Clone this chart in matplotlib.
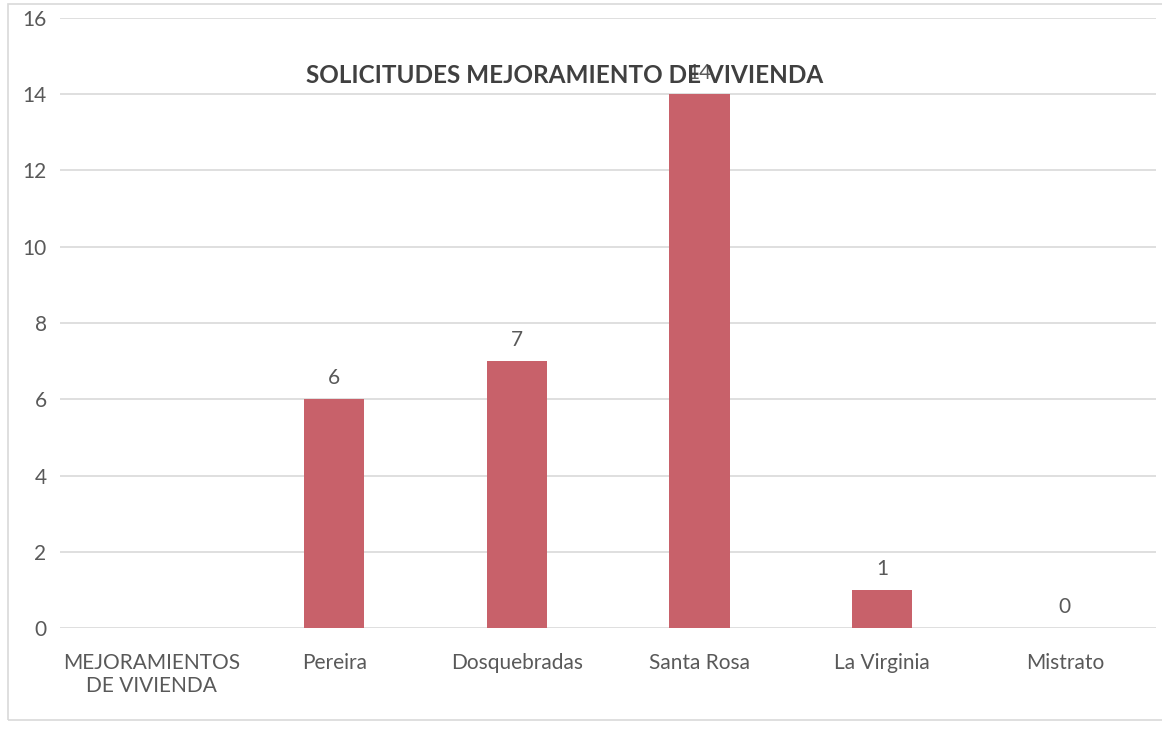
import matplotlib.pyplot as plt
import matplotlib
import numpy as np

categorias = ["MEJORAMIENTOS\nDE VIVIENDA", "Pereira", "Dosquebradas", "Santa Rosa", "La Virginia", "Mistrato"]
solicitudes = [np.nan, 6, 7, 14, 1, 0]
y_ticks = [0, 2, 4, 6, 8, 10, 12, 14, 16]

gris = '#595959'
plt.rcParams.update({'font.family': ['Lato', 'DejaVu Sans'], 'font.size': 15})

fig = plt.figure(figsize=(11.62, 7.46), dpi=100)
ax = fig.add_axes([0.052, 0.158, 0.943, 0.818])

x = np.arange(len(categorias))
barras = ax.bar(x, np.nan_to_num(solicitudes), width=0.33, color='#c8616a', zorder=3)

# etiquetas de valor (la primera categoria no tiene dato)
for xi, v in zip(x, solicitudes):
    if np.isnan(v):
        continue
    ax.annotate(f"{int(v)}", (xi, v), xytext=(0, 8), textcoords='offset points',
                ha='center', va='bottom', color=gris, fontsize=15)

ax.set_xticks(x)
ax.set_xticklabels(categorias, color=gris, fontsize=15)
ax.set_yticks(y_ticks)
ax.set_yticklabels([str(t) for t in y_ticks], color=gris, fontsize=15)
ax.set_ylim(0, 16)
ax.set_xlim(-0.5, len(categorias) - 0.5)

for s in ax.spines.values():
    s.set_visible(False)
ax.tick_params(axis='x', length=0, pad=18)
ax.tick_params(axis='y', length=0, pad=10)
ax.grid(axis='y', color='#d9d9d9', linewidth=1.2, zorder=0)

ax.text(0.46, 0.906, "SOLICITUDES MEJORAMIENTO DE VIVIENDA", transform=ax.transAxes,
        ha='center', va='center', fontsize=17.5, fontweight='bold', color='#404040', zorder=4)

# marco del grafico
marco = matplotlib.patches.Rectangle((0.007, 0.035), 1.0, 0.96, transform=fig.transFigure,
                                     fill=False, edgecolor='#d9d9d9', linewidth=1.2)
fig.patches.append(marco)

plt.savefig('out.png', dpi=100)
